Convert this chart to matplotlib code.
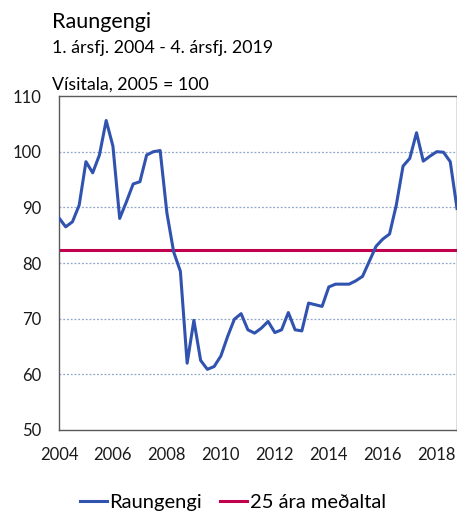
"""Raungengi (real exchange rate), quarterly 2004-2018, with 25-year average."""
import matplotlib
matplotlib.use("Agg")
import matplotlib.pyplot as plt
import numpy as np

# quarterly index values, Q1 2004 onwards (2005 = 100)
start_year = 2004
raungengi = [
    88.1, 86.5, 87.4, 90.4, 98.2, 96.2, 99.4, 105.6,
    101.0, 88.0, 91.0, 94.2, 94.6, 99.4, 100.0, 100.2,
    89.0, 82.0, 78.5, 62.0, 69.7, 62.5, 60.9, 61.4,
    63.3, 66.8, 69.9, 70.9, 68.0, 67.4, 68.3, 69.5,
    67.5, 68.0, 71.1, 68.0, 67.8, 72.8, 72.5, 72.2,
    75.7, 76.2, 76.2, 76.2, 76.8, 77.6, 80.3, 83.0,
    84.3, 85.2, 90.4, 97.4, 98.8, 103.4, 98.3, 99.2,
    100.0, 99.9, 98.2, 89.8,
]
medaltal_25 = 82.3
year_ticks = [2004, 2006, 2008, 2010, 2012, 2014, 2016, 2018]
y_ticks = [50, 60, 70, 80, 90, 100, 110]

BLUE = "#3153B0"
RED = "#C2004E"
GRID = "#8FA6C8"
FRAME = "#595959"

plt.rcParams["font.family"] = ["Lato", "DejaVu Sans"]

x = start_year + np.arange(len(raungengi)) / 4

fig = plt.figure(figsize=(4.57, 5.19), dpi=100)
ax = fig.add_axes([0.129, 0.1715, 0.871, 0.6435])

for v in y_ticks[1:-1]:
    ax.axhline(v, color=GRID, linewidth=0.9, linestyle=(0, (1.5, 1.5)), zorder=1)

ax.plot(x, raungengi, color=BLUE, linewidth=2.2, label="Raungengi", zorder=3)
ax.axhline(medaltal_25, color=RED, linewidth=2.2, label="25 ára meðaltal", zorder=2)

ax.set_xlim(x[0], x[-1])
ax.set_ylim(50, 110)
ax.set_xticks(year_ticks)
ax.set_yticks(y_ticks)
ax.tick_params(length=0, labelsize=12, pad=12.5, colors="#1a1a1a")
for s in ax.spines.values():
    s.set_color(FRAME)
    s.set_linewidth(1.0)

fig.text(52 / 457, 1 - 22 / 519, "Raungengi", fontsize=15.5, va="center", ha="left")
fig.text(52 / 457, 1 - 48 / 519, "1. ársfj. 2004 - 4. ársfj. 2019", fontsize=12.8,
         va="center", ha="left")
fig.text(52 / 457, 1 - 85 / 519, "Vísitala, 2005 = 100", fontsize=12.8, va="center", ha="left")

fig.legend(loc="center", bbox_to_anchor=(0.51, 1 - 502 / 519), ncol=2, frameon=False,
           fontsize=14.5, handlelength=1.3, handletextpad=0.15, columnspacing=0.9)

fig.savefig("out.png", dpi=100)
